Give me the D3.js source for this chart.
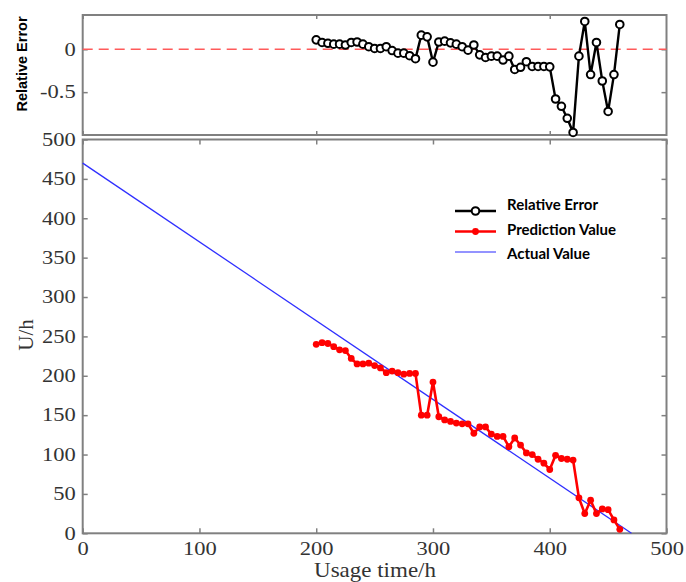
<!DOCTYPE html>
<html>
<head>
<meta charset="utf-8">
<script src="https://cdn.jsdelivr.net/npm/d3@7"></script>
<style>
  html, body { margin: 0; padding: 0; background: #fff; }
  svg { display: block; }
</style>
</head>
<body>
<svg id="chart" width="686" height="582"></svg>
<script>
// Usage time (h) of each sample
const hours = [200, 205, 210, 215, 220, 225, 230, 235, 240, 245,
               250, 255, 260, 265, 270, 275, 280, 285, 290, 295,
               300, 305, 310, 315, 320, 325, 330, 335, 340, 345,
               350, 355, 360, 365, 370, 375, 380, 385, 390, 395,
               400, 405, 410, 415, 420, 425, 430, 435, 440, 445,
               450, 455, 460];

// Predicted remaining life (U/h)
const prediction = [240, 242, 241, 237, 233, 232, 222, 215, 215, 216,
                    213, 210, 204, 206, 204, 202, 203, 203, 150, 150,
                    192, 148, 144, 142, 140, 139, 139, 127, 135, 135,
                    126, 123, 123, 110, 121, 112, 102, 100, 94, 89,
                    81, 99, 95, 94, 93, 45, 25, 42, 25, 31,
                    30, 17, 5];

// Relative error of each prediction
const relError = [0.11, 0.08, 0.07, 0.06, 0.06, 0.05, 0.08, 0.085, 0.06, 0.03,
                  0.01, 0.01, 0.03, -0.015, -0.045, -0.045, -0.075, -0.11, 0.165, 0.145,
                  -0.15, 0.085, 0.095, 0.075, 0.06, 0.03, -0.01, 0.05, -0.065, -0.095,
                  -0.08, -0.08, -0.125, -0.08, -0.235, -0.21, -0.145, -0.2, -0.2, -0.2,
                  -0.205, -0.58, -0.665, -0.805, -0.97, -0.08, 0.325, -0.295, 0.08, -0.37,
                  -0.725, -0.295, 0.29];

// Actual value line endpoints (hours, U/h)
const actualHours = [0, 470];
const actualValues = [470, 0];

// Axis ticks
const xTicks = [0, 100, 200, 300, 400, 500];
const yTicks = [0, 50, 100, 150, 200, 250, 300, 350, 400, 450, 500];
const errTicks = [0, -0.5];
const errXTicks = [0, 200, 400];

const legendLabels = ["Relative Error", "Prediction Value", "Actual Value"];

const svg = d3.select("#chart");
const axisColor = "#808080";
const textColor = "#333";
const serif = "'Liberation Serif', 'Times New Roman', serif";
const stretch = 1.25;   // wide serif lettering

const left = 82.7, right = 666.5;
const x = d3.scaleLinear().domain([0, 500]).range([left, right]);

// ---------- main panel ----------
const mainTop = 139.5, mainBottom = 533.3;
const y = d3.scaleLinear().domain([0, 500]).range([mainBottom, mainTop]);

// ---------- error panel ----------
const errTop = 15, errBottom = 135;
const yErr = d3.scaleLinear().domain([-1, 0.4]).range([errBottom, errTop]);

function frame(top, bottom) {
  svg.append("rect")
    .attr("x", left).attr("y", top)
    .attr("width", right - left).attr("height", bottom - top)
    .attr("fill", "none").attr("stroke", axisColor).attr("stroke-width", 2);
}

function styleAxis(g) {
  g.select(".domain").remove();
  g.selectAll(".tick line").attr("stroke", axisColor).attr("stroke-width", 1.5);
  g.selectAll(".tick text")
    .attr("fill", textColor)
    .style("font-family", serif)
    .style("font-size", "18px");
}

function widenLeft(g) {
  g.selectAll(".tick text")
    .attr("x", -7 / stretch)
    .attr("transform", `scale(${stretch},1)`);
}
function widenBottom(g) {
  g.selectAll(".tick text").attr("transform", `scale(${stretch},1)`);
}

// Main panel axes (ticks pointing inward on all four sides)
svg.append("g").attr("transform", `translate(0,${mainBottom})`)
  .call(d3.axisBottom(x).tickValues(xTicks).tickSize(-5).tickPadding(9).tickFormat(d3.format("d")))
  .call(styleAxis).call(widenBottom);
svg.append("g").attr("transform", `translate(0,${mainTop})`)
  .call(d3.axisTop(x).tickValues(xTicks).tickSize(-5).tickFormat(""))
  .call(styleAxis);
svg.append("g").attr("transform", `translate(${left},0)`)
  .call(d3.axisLeft(y).tickValues(yTicks).tickSize(-5).tickFormat(d3.format("d")))
  .call(styleAxis).call(widenLeft);
svg.append("g").attr("transform", `translate(${right},0)`)
  .call(d3.axisRight(y).tickValues(yTicks).tickSize(-5).tickFormat(""))
  .call(styleAxis);

// Error panel axes
svg.append("g").attr("transform", `translate(${left},0)`)
  .call(d3.axisLeft(yErr).tickValues(errTicks).tickSize(-5).tickFormat(d => d === 0 ? "0" : "-0.5"))
  .call(styleAxis).call(widenLeft);
svg.append("g").attr("transform", `translate(${right},0)`)
  .call(d3.axisRight(yErr).tickValues(errTicks).tickSize(-5).tickFormat(""))
  .call(styleAxis);
svg.append("g").attr("transform", `translate(0,${errTop})`)
  .call(d3.axisTop(x).tickValues(errXTicks).tickSize(-4).tickFormat(""))
  .call(styleAxis);
svg.append("g").attr("transform", `translate(0,${errBottom})`)
  .call(d3.axisBottom(x).tickValues(errXTicks).tickSize(-4).tickFormat(""))
  .call(styleAxis);

frame(errTop, errBottom);
frame(mainTop, mainBottom);

// Zero reference line in the error panel
svg.append("line")
  .attr("x1", left).attr("x2", right)
  .attr("y1", yErr(0)).attr("y2", yErr(0))
  .attr("stroke", "#ff5a5a").attr("stroke-width", 1.6)
  .attr("stroke-dasharray", "10,6");

// Relative error series
const errData = hours.map((h, i) => ({ h, v: relError[i] }));
svg.append("path").datum(errData)
  .attr("fill", "none").attr("stroke", "#000").attr("stroke-width", 2.4)
  .attr("stroke-linejoin", "round")
  .attr("d", d3.line().x(d => x(d.h)).y(d => yErr(d.v)));
svg.append("g").selectAll("circle").data(errData).join("circle")
  .attr("cx", d => x(d.h)).attr("cy", d => yErr(d.v)).attr("r", 3.8)
  .attr("fill", "#fff").attr("stroke", "#000").attr("stroke-width", 2);

// Actual value line
const actualData = actualHours.map((h, i) => ({ h, v: actualValues[i] }));
svg.append("path").datum(actualData)
  .attr("fill", "none").attr("stroke", "#2f2fff").attr("stroke-width", 1.3)
  .attr("d", d3.line().x(d => x(d.h)).y(d => y(d.v)));

// Prediction series
const predData = hours.map((h, i) => ({ h, v: prediction[i] }));
svg.append("path").datum(predData)
  .attr("fill", "none").attr("stroke", "#ff0000").attr("stroke-width", 2.6)
  .attr("stroke-linejoin", "round")
  .attr("d", d3.line().x(d => x(d.h)).y(d => y(d.v)));
svg.append("g").selectAll("circle").data(predData).join("circle")
  .attr("cx", d => x(d.h)).attr("cy", d => y(d.v)).attr("r", 3.4)
  .attr("fill", "#ff0000");

// Legend
const legend = svg.append("g");
const legX1 = 455, legX2 = 496, legTextX = 507;
const legY = [211, 231.5, 252];
const legBase = [210, 234.5, 258.5];
legend.append("line").attr("x1", legX1).attr("x2", legX2).attr("y1", legY[0]).attr("y2", legY[0])
  .attr("stroke", "#000").attr("stroke-width", 2.4);
legend.append("circle").attr("cx", (legX1 + legX2) / 2).attr("cy", legY[0]).attr("r", 3.8)
  .attr("fill", "#fff").attr("stroke", "#000").attr("stroke-width", 2);
legend.append("line").attr("x1", legX1).attr("x2", legX2).attr("y1", legY[1]).attr("y2", legY[1])
  .attr("stroke", "#ff0000").attr("stroke-width", 2.4);
legend.append("circle").attr("cx", (legX1 + legX2) / 2).attr("cy", legY[1]).attr("r", 3.4)
  .attr("fill", "#ff0000");
legend.append("line").attr("x1", legX1).attr("x2", legX2).attr("y1", legY[2]).attr("y2", legY[2])
  .attr("stroke", "#6f6fff").attr("stroke-width", 1.5);
legend.selectAll("text").data(legendLabels).join("text")
  .attr("x", legTextX).attr("y", (d, i) => legBase[i])
  .attr("fill", "#000")
  .style("font-family", "Lato, 'Open Sans', sans-serif")
  .style("font-weight", "bold")
  .style("font-size", "15px")
  .text(d => d);

// Axis titles
svg.append("text")
  .attr("transform", "translate(27,64) rotate(-90)")
  .attr("text-anchor", "middle")
  .attr("fill", "#000")
  .style("font-family", "'Liberation Sans', Arial, sans-serif")
  .style("font-weight", "bold")
  .style("font-size", "14.5px")
  .text("Relative Error");

svg.append("text")
  .attr("transform", "translate(33,335) rotate(-90)")
  .attr("text-anchor", "middle")
  .attr("fill", textColor)
  .style("font-family", serif)
  .style("font-size", "21px")
  .text("U/h");

svg.append("text")
  .attr("transform", `translate(375,577) scale(1.15,1)`)
  .attr("text-anchor", "middle")
  .attr("fill", textColor)
  .style("font-family", serif)
  .style("font-size", "20px")
  .text("Usage time/h");
</script>
</body>
</html>
